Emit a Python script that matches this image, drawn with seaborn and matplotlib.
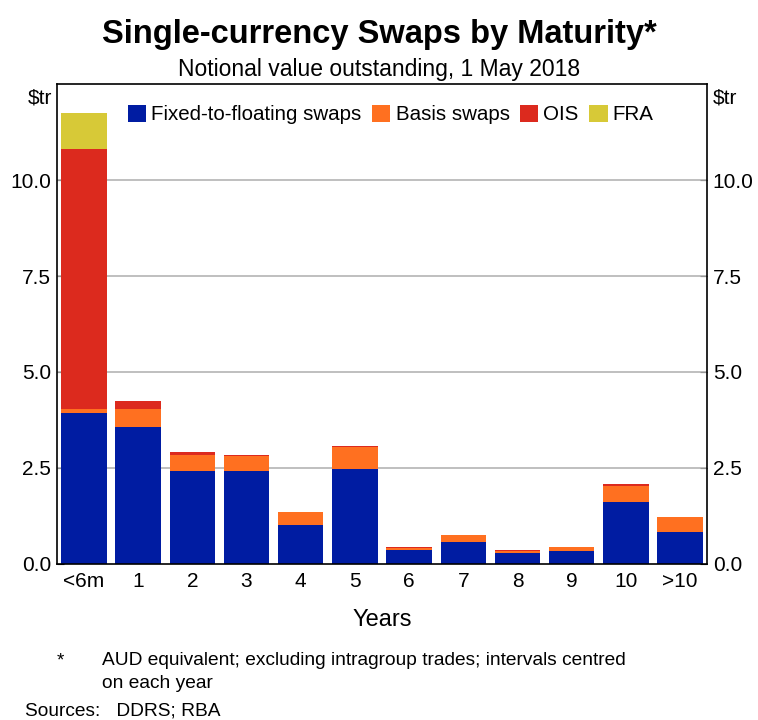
import matplotlib
matplotlib.use("Agg")
import matplotlib.pyplot as plt
import seaborn as sns
import numpy as np
import pandas as pd
from matplotlib.patches import Patch

categories = ["<6m", "1", "2", "3", "4", "5", "6", "7", "8", "9", "10", ">10"]
fixed_to_floating = [3.93, 3.57, 2.41, 2.41, 1.00, 2.48, 0.35, 0.57, 0.29, 0.33, 1.60, 0.82]
basis_swaps = [0.11, 0.47, 0.42, 0.39, 0.35, 0.57, 0.05, 0.19, 0.03, 0.11, 0.43, 0.39]
ois = [6.77, 0.20, 0.08, 0.04, 0.00, 0.03, 0.04, 0.00, 0.04, 0.00, 0.04, 0.00]
fra = [0.95, 0.00, 0.00, 0.00, 0.00, 0.00, 0.00, 0.00, 0.00, 0.00, 0.00, 0.00]
series_names = ["Fixed-to-floating swaps", "Basis swaps", "OIS", "FRA"]
colors = ["#001ca2", "#ff7020", "#dc2a1e", "#d7c937"]
yticks = [0.0, 2.5, 5.0, 7.5, 10.0]

sns.set_style("white")
plt.rcParams["font.family"] = ["Liberation Sans", "DejaVu Sans"]
plt.rcParams.update({"text.color": "black", "axes.labelcolor": "black",
                     "xtick.color": "black", "ytick.color": "black"})

fig = plt.figure(figsize=(7.58, 7.2), dpi=100)
ax = fig.add_axes([0.075, 0.217, 0.858, 0.666])

series = [fixed_to_floating, basis_swaps, ois, fra]
cum = np.cumsum(np.array(series), axis=0)
# draw from the top layer down so lower layers overlay
for i in range(len(series) - 1, -1, -1):
    df = pd.DataFrame({"cat": categories, "val": cum[i]})
    sns.barplot(data=df, x="cat", y="val", order=categories, color=colors[i],
                saturation=1, width=0.84, ax=ax, edgecolor="none", linewidth=0, zorder=2)

ax.set_ylim(0, 12.5)
ax.set_xlim(-0.5, len(categories) - 0.5)
ax.set_yticks(yticks)
ax.set_yticklabels([f"{t:.1f}" for t in yticks])
ax.tick_params(axis="y", direction="in", length=5, labelsize=15, pad=4,
               left=True, right=True, labelleft=True, labelright=True)
ax.tick_params(axis="x", which="major", length=0, labelsize=15, pad=6)
ax.set_xticks(np.arange(len(categories) + 1) - 0.5, minor=True)
ax.tick_params(axis="x", which="minor", direction="in", length=5, width=1.2, color="#333333")
for t in yticks[1:]:
    ax.axhline(t, color="#b4b4b4", lw=1.2, zorder=1)
for s in ax.spines.values():
    s.set_color("black")
    s.set_linewidth(1.2)
ax.set_xlabel("Years", fontsize=17, labelpad=13)
ax.set_ylabel("")

fig.text(0.053, 0.864, "$tr", fontsize=15, ha="center", va="center")
fig.text(0.957, 0.864, "$tr", fontsize=15, ha="center", va="center")

fig.text(0.5, 0.952, "Single-currency Swaps by Maturity*", fontsize=23.5,
         fontweight="bold", ha="center", va="center")
fig.text(0.5, 0.903, "Notional value outstanding, 1 May 2018", fontsize=16.5,
         ha="center", va="center")

handles = [Patch(facecolor=c, edgecolor="none") for c in colors]
leg = ax.legend(handles, series_names, loc="upper left", bbox_to_anchor=(0.09, 0.983),
                ncol=4, frameon=False, fontsize=14.8, handlelength=0.9, handleheight=0.9,
                handletextpad=0.25, columnspacing=0.5, borderaxespad=0.2)

fig.text(0.075, 0.082, "*", fontsize=13.5, ha="left", va="center")
fig.text(0.135, 0.082, "AUD equivalent; excluding intragroup trades; intervals centred",
         fontsize=13.8, ha="left", va="center")
fig.text(0.135, 0.050, "on each year", fontsize=13.8, ha="left", va="center")
fig.text(0.033, 0.012, "Sources:   DDRS; RBA", fontsize=13.8, ha="left", va="center")

fig.savefig("out.png", dpi=100)
